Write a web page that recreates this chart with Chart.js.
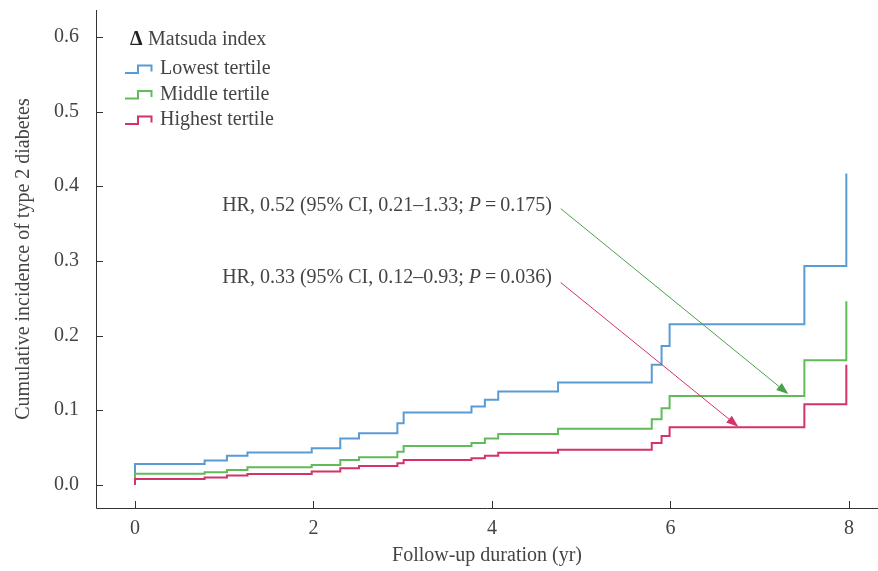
<!DOCTYPE html>
<html><head><meta charset="utf-8">
<script src="https://cdn.jsdelivr.net/npm/chart.js@4.4.1/dist/chart.umd.min.js"></script>
<style>html,body{margin:0;padding:0;background:#fff}#wrap{width:878px;height:571px;position:relative}</style>
</head><body><div id="wrap"><canvas id="c" width="878" height="571"></canvas></div>
<script>
// ---- data ----
const eventTimes     = [0, 0.78, 1.03, 1.26, 1.98, 2.30, 2.51, 2.94, 3.01, 3.77, 3.92, 4.07, 4.74, 5.79, 5.90, 5.99, 7.50, 7.97];
const lowestTertile  = [0.028, 0.0325, 0.039, 0.0435, 0.049, 0.062, 0.069, 0.0825, 0.097, 0.105, 0.114, 0.125, 0.137, 0.161, 0.186, 0.215, 0.293, 0.417];
const middleTertile  = [0.015, 0.017, 0.020, 0.0237, 0.0267, 0.0334, 0.037, 0.0445, 0.052, 0.056, 0.062, 0.068, 0.075, 0.088, 0.1025, 0.119, 0.167, 0.246];
const highestTertile = [0.008, 0.010, 0.0125, 0.0147, 0.0178, 0.0223, 0.0254, 0.029, 0.0334, 0.0356, 0.039, 0.043, 0.047, 0.056, 0.0655, 0.077, 0.108, 0.161];
const seriesLabels   = ['Lowest tertile', 'Middle tertile', 'Highest tertile'];
const legendTitle    = 'Matsuda index';
const xTicks         = [0, 2, 4, 6, 8];
const yTicks         = [0.0, 0.1, 0.2, 0.3, 0.4, 0.5, 0.6];
const hrTexts        = [
  ['HR, 0.52 (95% CI, 0.21\u20131.33; ', 'P', '\u2009=\u20090.175)'],
  ['HR, 0.33 (95% CI, 0.12\u20130.93; ', 'P', '\u2009=\u20090.036)']
];

const COLORS = ['#5b9bd5', '#62bb5a', '#d4336a'];
const ARROW_COLORS = ['#4aa14a', '#d4336a'];
const TEXT = '#444';
const FONT = '"Liberation Serif", "Times New Roman", serif';

function km(vals) {
  return [{x: 0, y: 0}].concat(eventTimes.map((t, i) => ({x: t, y: vals[i]})));
}

const seriesValues = [lowestTertile, middleTertile, highestTertile];
const datasets = seriesValues.map((v, i) => ({
  label: seriesLabels[i],
  data: km(v),
  borderColor: COLORS[i],
  borderWidth: 2,
  pointRadius: 0,
  fill: false,
  stepped: 'before',
  tension: 0,
  order: 2 - i
}));

const overlay = {
  id: 'overlay',
  afterDraw(chart) {
    const ctx = chart.ctx;
    const xs = chart.scales.x, ys = chart.scales.y;
    const a = chart.chartArea;
    ctx.save();
    // axes
    ctx.strokeStyle = '#333';
    ctx.lineWidth = 1;
    ctx.beginPath();
    ctx.moveTo(a.left + 0.5, a.top);
    ctx.lineTo(a.left + 0.5, a.bottom + 0.5);
    ctx.lineTo(a.right, a.bottom + 0.5);
    ctx.stroke();
    ctx.beginPath();
    xTicks.forEach(v => {
      const px = Math.round(xs.getPixelForValue(v)) + 0.5;
      ctx.moveTo(px, a.bottom); ctx.lineTo(px, a.bottom - 7);
    });
    yTicks.forEach(v => {
      const py = Math.round(ys.getPixelForValue(v)) + 0.5;
      ctx.moveTo(a.left, py); ctx.lineTo(a.left + 7, py);
    });
    ctx.stroke();

    // legend
    ctx.fillStyle = '#222';
    ctx.textBaseline = 'middle';
    ctx.textAlign = 'left';
    ctx.font = 'bold 20px ' + FONT;
    ctx.fillText('\u0394', 130, 40);
    ctx.fillStyle = TEXT;
    ctx.font = '20px ' + FONT;
    ctx.fillText(legendTitle, 148, 40);
    const rows = [69, 94.5, 120];
    chart.data.datasets.forEach((ds, i) => {
      const yc = rows[i];
      ctx.strokeStyle = ds.borderColor;
      ctx.lineWidth = 2;
      ctx.beginPath();
      ctx.moveTo(125, yc + 4);
      ctx.lineTo(138, yc + 4);
      ctx.lineTo(138, yc - 3.5);
      ctx.lineTo(151.5, yc - 3.5);
      ctx.lineTo(151.5, yc + 2.5);
      ctx.stroke();
      ctx.fillStyle = TEXT;
      ctx.fillText(ds.label, 160, yc);
    });

    // HR annotations (right aligned)
    const textPos = [[4.672, 0.374], [4.672, 0.278]];
    hrTexts.forEach((parts, i) => {
      const right = xs.getPixelForValue(textPos[i][0]);
      const y = ys.getPixelForValue(textPos[i][1]);
      ctx.font = '20px ' + FONT;
      const w0 = ctx.measureText(parts[0]).width;
      const w2 = ctx.measureText(parts[2]).width;
      ctx.font = 'italic 20px ' + FONT;
      const w1 = ctx.measureText(parts[1]).width;
      let x = right - (w0 + w1 + w2);
      ctx.fillStyle = TEXT;
      ctx.font = '20px ' + FONT;
      ctx.fillText(parts[0], x, y); x += w0;
      ctx.font = 'italic 20px ' + FONT;
      ctx.fillText(parts[1], x, y); x += w1;
      ctx.font = '20px ' + FONT;
      ctx.fillText(parts[2], x, y);
    });

    // arrows
    const arrows = [
      [[4.77, 0.370], [7.32, 0.1216]],
      [[4.77, 0.271], [6.76, 0.0779]]
    ];
    arrows.forEach((ar, i) => {
      const x0 = xs.getPixelForValue(ar[0][0]), y0 = ys.getPixelForValue(ar[0][1]);
      const x1 = xs.getPixelForValue(ar[1][0]), y1 = ys.getPixelForValue(ar[1][1]);
      const ang = Math.atan2(y1 - y0, x1 - x0);
      const L = 12, H = 4.5;
      const bx = x1 - L * Math.cos(ang), by = y1 - L * Math.sin(ang);
      ctx.strokeStyle = ARROW_COLORS[i];
      ctx.fillStyle = ARROW_COLORS[i];
      ctx.lineWidth = 1;
      ctx.beginPath();
      ctx.moveTo(x0, y0); ctx.lineTo(bx, by);
      ctx.stroke();
      ctx.beginPath();
      ctx.moveTo(x1, y1);
      ctx.lineTo(bx + H * Math.sin(ang), by - H * Math.cos(ang));
      ctx.lineTo(bx - H * Math.sin(ang), by + H * Math.cos(ang));
      ctx.closePath();
      ctx.fill();
    });
    ctx.restore();
  }
};

new Chart(document.getElementById('c'), {
  type: 'line',
  data: { datasets },
  plugins: [overlay],
  options: {
    responsive: false,
    animation: false,
    devicePixelRatio: 1,
    layout: { padding: { top: 10, left: 0, right: 0, bottom: 0 } },
    plugins: { legend: { display: false }, tooltip: { enabled: false } },
    scales: {
      x: {
        type: 'linear', min: -0.437, max: 8.325,
        afterBuildTicks: s => { s.ticks = xTicks.map(v => ({ value: v })); },
        afterFit: s => { s.height = 63; s.paddingLeft = 0; s.paddingRight = 0; },
        grid: { display: false, drawTicks: false },
        border: { display: false },
        ticks: { padding: 9, color: TEXT, font: { family: FONT, size: 20 }, callback: v => String(v) },
        title: { display: true, text: 'Follow-up duration (yr)', color: TEXT, font: { family: FONT, size: 20 }, padding: { top: 0, bottom: 3 } }
      },
      y: {
        type: 'linear', min: -0.031, max: 0.636,
        afterBuildTicks: s => { s.ticks = yTicks.map(v => ({ value: v })); },
        afterFit: s => { s.width = 96; s.paddingTop = 0; s.paddingBottom = 0; },
        grid: { display: false, drawTicks: false },
        border: { display: false },
        ticks: { padding: 17, color: TEXT, font: { family: FONT, size: 20 }, callback: v => v.toFixed(1) },
        title: { display: true, text: 'Cumulative incidence of type 2 diabetes', color: TEXT, font: { family: FONT, size: 20 }, padding: { top: 12, bottom: 0 } }
      }
    }
  }
});
</script></body></html>
